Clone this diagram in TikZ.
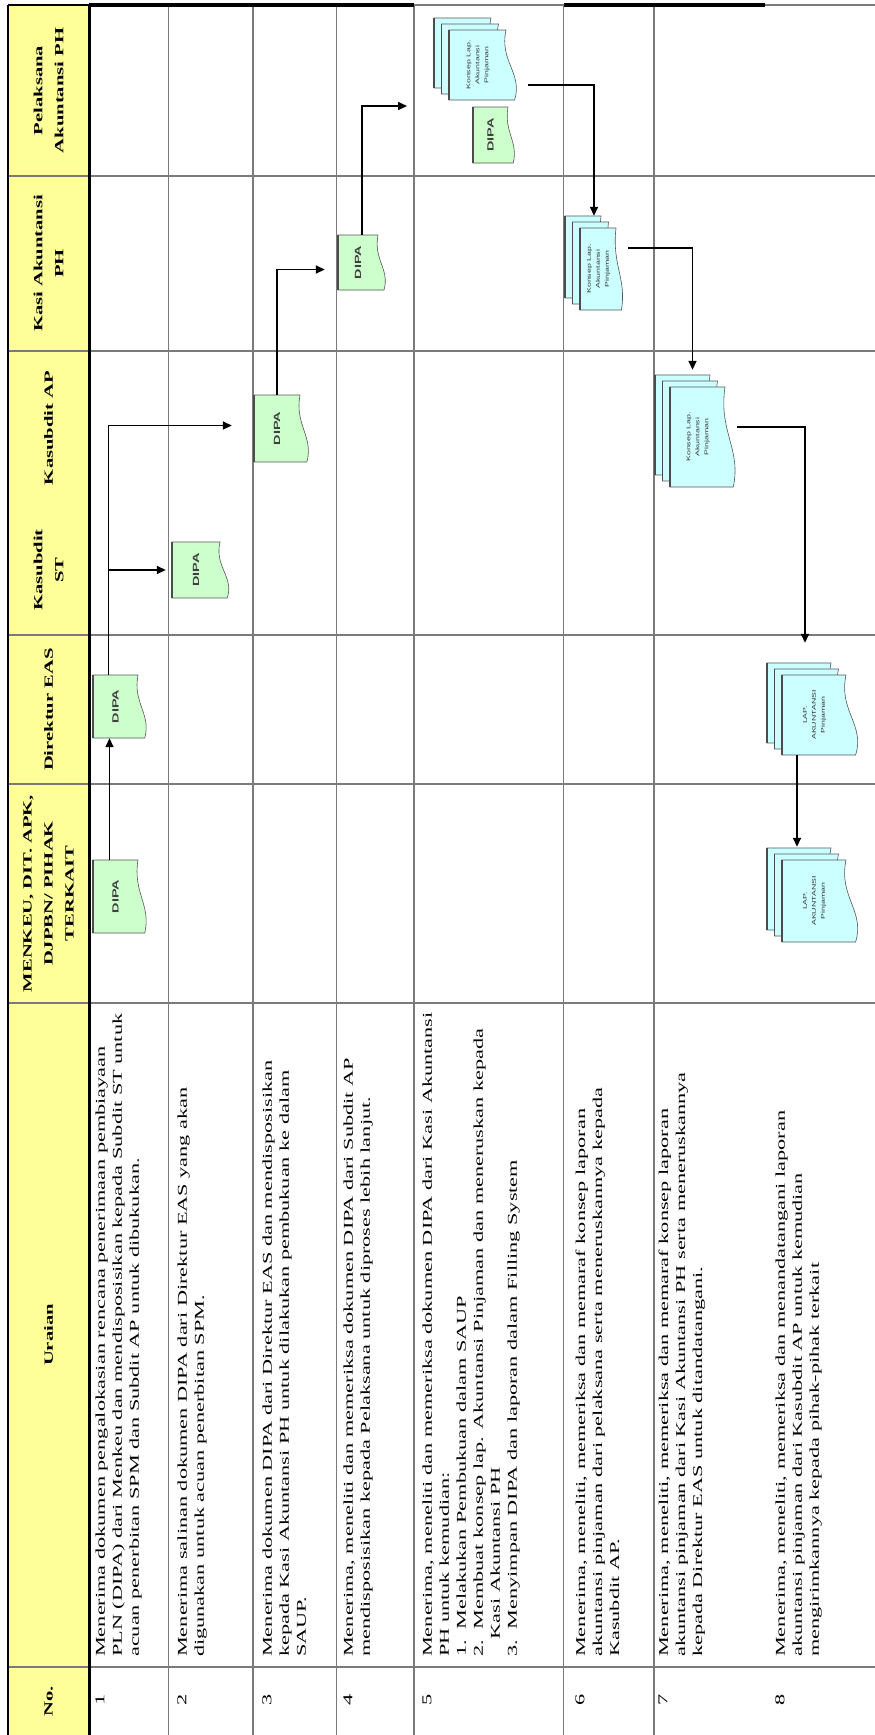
\documentclass[tikz,border=0pt]{standalone}
\usepackage{fontspec}
\usepackage{graphicx}
\setmainfont[FakeStretch=1.65]{Liberation Serif}
\newfontfamily\docfont[FakeStretch=1.6]{Liberation Sans}
\usetikzlibrary{arrows.meta}
\definecolor{hdr}{HTML}{FFFF99}
\definecolor{grn}{HTML}{CCFFCC}
\definecolor{blu}{HTML}{CCFFFF}
\definecolor{gridc}{HTML}{7A7A7A}
\definecolor{docln}{HTML}{555555}
\pgfdeclarelayer{bg}\pgfdeclarelayer{docs}\pgfsetlayers{bg,docs,main}
\newcommand\docpath[5]{%
  \pgfmathsetmacro\ax{#1}\pgfmathsetmacro\ay{#2}\pgfmathsetmacro\bx{#3}\pgfmathsetmacro\by{#4}%
  \pgfmathsetmacro\dW{\bx-\ax}\pgfmathsetmacro\dH{\by-\ay}%
  \pgfmathsetmacro\cax{\bx-0.12*\dW}\pgfmathsetmacro\cay{\ay+0.45*\dH}%
  \pgfmathsetmacro\cbx{\bx+0.30*\dW}\pgfmathsetmacro\cby{\ay+0.62*\dH}%
  \pgfmathsetmacro\ex{\bx+0.15*\dW}%
  \path[fill=#5,draw=docln,line width=0.6pt] (\ax,\ay) -- (\bx,\ay) .. controls (\cax,\cay) and (\cbx,\cby) .. (\ex,\by) -- (\ax,\by) -- cycle;
  \draw[line width=1.5pt,black!70] (\ax,\ay) -- (\ax,\by);
}
\newcommand\dipadoc[5]{%
  \begin{pgfonlayer}{docs}\docpath{#2}{#3}{#4}{#5}{grn}\end{pgfonlayer}
  \node[dipatext, minimum width={#4-#2}, minimum height={#5-#3}] (#1) at ({(#2+#4)/2},{(#3+#5)/2}) {\rotatebox{90}{DIPA}};
}
\newcommand\stackdoc[6]{%
  \begin{pgfonlayer}{docs}
    \docpath{#2-15}{#3-12}{#4-15}{#5-12}{blu}
    \docpath{#2-7.5}{#3-6}{#4-7.5}{#5-6}{blu}
    \docpath{#2}{#3}{#4}{#5}{blu}
  \end{pgfonlayer}
  \node[stacktext, minimum width={#4-#2}, minimum height={#5-#3}] (#1) at ({(#2+#4)/2},{(#3+#5)/2}) {\rotatebox{90}{\begin{tabular}{@{}c@{}}#6\end{tabular}}};
}
\tikzset{
  gridln/.style={draw=gridc, line width=1.1pt},
  dipatext/.style={inner sep=0pt, font=\docfont\bfseries\fontsize{9}{10}\selectfont, text=black!75},
  stacktext/.style={inner sep=0pt, font=\docfont\fontsize{5.5}{9}\selectfont, text=black!80},
  hdrtxt/.style={rotate=90, align=center, inner sep=0pt, font=\bfseries\fontsize{12.5}{21}\selectfont},
  rowtxt/.style={rotate=90, anchor=north west, align=left, inner sep=0pt, font=\fontsize{13.5}{17}\selectfont},
  numtxt/.style={rotate=90, inner sep=0pt, font=\fontsize{13.5}{17}\selectfont},
  arr/.style={-{Triangle[length=9pt,width=8pt]}, line width=1.6pt, black}
}
\begin{document}
\begin{tikzpicture}[x=1pt,y=-1pt]
\useasboundingbox (0,0) rectangle (875,1735);
\begin{pgfonlayer}{bg}
  \fill[white] (0,0) rectangle (875,1735);
  \fill[hdr] (8,5) rectangle (89,1735);
  \foreach \x in {168.5,253,336.5,414,563.6,654} \draw[gridln] (\x,5) -- (\x,1735);
  \foreach \y in {176,351,635,784,1003,1667} \draw[gridln] (8,\y) -- (875,\y);
  \draw[line width=3pt] (89,5) -- (89,1735);
  \draw[line width=1.4pt] (8,5) -- (8,1735);
  \draw[line width=1.2pt] (8,5) -- (89,5);
  \draw[line width=3.5pt] (89,5) -- (414,5);
  \draw[gridln] (414,5) -- (564,5);
  \draw[line width=3.5pt] (564,5) -- (765,5);
  \draw[gridln] (765,5) -- (875,5);
\end{pgfonlayer}

% header labels
\node[hdrtxt] (hPel) at (48.5,90.5) {Pelaksana\\Akuntansi PH};
\node[hdrtxt] (hKasi) at (48.5,263.5) {Kasi Akuntansi\\PH};
\node[hdrtxt] (hAP) at (48.5,428) {Kasubdit AP};
\node[hdrtxt] (hST) at (48.5,570) {Kasubdit\\ST};
\node[hdrtxt] (hDir) at (48.5,709.5) {Direktur EAS};
\node[hdrtxt] (hMen) at (48.5,893.5) {MENKEU, DIT. APK,\\DJPBN/ PIHAK\\TERKAIT};
\node[hdrtxt] (hUr) at (48.5,1335) {Uraian};
\node[hdrtxt] (hNo) at (48.5,1701) {No.};

% row numbers
\node[numtxt] (n1) at (100,1700) {1};
\node[numtxt] (n2) at (182,1700) {2};
\node[numtxt] (n3) at (267,1700) {3};
\node[numtxt] (n4) at (348,1700) {4};
\node[numtxt] (n5) at (427,1700) {5};
\node[numtxt] (n6) at (580,1700) {6};
\node[numtxt] (n7) at (663,1700) {7};
\node[numtxt] (n8) at (780,1700) {8};

% descriptions
\node[rowtxt] (t1) at (95.3,1657) {Menerima dokumen pengalokasian rencana penerimaan pembiayaan\\PLN (DIPA) dari Menkeu dan mendisposisikan kepada Subdit ST untuk\\acuan penerbitan SPM dan Subdit AP untuk dibukukan.};
\node[rowtxt] (t2) at (177.3,1657) {Menerima salinan dokumen DIPA  dari Direktur EAS yang akan\\digunakan untuk acuan penerbitan SPM.};
\node[rowtxt] (t3) at (262.3,1657) {Menerima dokumen DIPA  dari Direktur EAS dan mendisposisikan\\kepada Kasi Akuntansi PH untuk dilakukan pembukuan ke dalam\\SAUP.};
\node[rowtxt] (t4) at (343.3,1657) {Menerima, meneliti dan memeriksa dokumen DIPA dari Subdit AP\\mendisposisikan kepada Pelaksana untuk diproses lebih lanjut.};
\node[rowtxt] (t5) at (422.3,1657) {Menerima, meneliti dan memeriksa dokumen DIPA dari Kasi Akuntansi\\PH untuk kemudian:\\1.\hspace{0.8em}Melakukan Pembukuan dalam SAUP\\2.\hspace{0.8em}Membuat konsep lap. Akuntansi Pinjaman dan meneruskan kepada\\\hspace*{1.3em}Kasi Akuntansi PH\\3.\hspace{0.8em}Menyimpan DIPA dan laporan dalam Filling System};
\node[rowtxt] (t6) at (575.3,1657) {Menerima, meneliti, memeriksa dan memaraf konsep laporan\\akuntansi pinjaman dari pelaksana serta meneruskannya kepada\\Kasubdit AP.};
\node[rowtxt] (t7) at (658.3,1657) {Menerima, meneliti, memeriksa dan memaraf konsep laporan\\akuntansi pinjaman dari Kasi Akuntansi PH serta meneruskannya\\kepada Direktur EAS untuk ditandatangani.};
\node[rowtxt] (t8) at (775.3,1657) {Menerima, meneliti, memeriksa dan menandatangani laporan\\akuntansi pinjaman dari Kasubdit AP untuk kemudian\\mengirimkannya kepada pihak-pihak terkait};

% documents
\dipadoc{dMen}{93}{860}{138}{933}
\dipadoc{dDir}{93}{675}{138}{738}
\dipadoc{dST}{172}{542}{220}{598}
\dipadoc{dAP}{254}{395}{300}{462}
\dipadoc{dKasi}{338}{235}{378}{290}
\dipadoc{dPel}{473}{107}{508}{163}
\stackdoc{sPel}{449}{30}{506}{100}{Konsep Lap.\\Akuntansi\\Pinjaman}
\stackdoc{sKasi}{580}{228}{616}{310}{Konsep Lap.\\Akuntansi\\Pinjaman}
\stackdoc{sAP}{670}{387}{725}{487}{Konsep Lap.\\Akuntansi\\Pinjaman}
\stackdoc{sDir}{782}{675}{846}{755}{LAP.\\AKUNTANSI\\Pinjaman}
\stackdoc{sMen}{782}{860}{846}{942}{LAP.\\AKUNTANSI\\Pinjaman}

% connectors
\coordinate (pIn) at (407,106);
\draw[arr] ([xshift=-6pt]dMen.north) -- ([xshift=-6pt]dDir.south);
\draw[arr, shorten >=6pt] ([xshift=-7pt]dDir.north) |- (dST.west);
\draw[arr, shorten >=22pt] ([xshift=-7pt]dDir.north) |- ([yshift=3pt]dAP.west);
\draw[arr, shorten >=13pt] (dAP.north) |- ([yshift=-7pt]dKasi.west);
\draw[arr] ([xshift=4pt]dKasi.north) |- (pIn);
\draw[arr, shorten <=22pt] ([yshift=-20pt]sPel.east) -| ([xshift=-4pt,yshift=12pt]sKasi.north);
\draw[arr, shorten <=12pt] ([yshift=21pt]sKasi.east) -| ([xshift=-5pt,yshift=17pt]sAP.north);
\draw[arr, shorten <=12pt, shorten >=32pt] ([yshift=10pt]sAP.east) -| ([xshift=-9pt]sDir.north);
\draw[arr, shorten >=13pt] ([xshift=-17pt]sDir.south) -- ([xshift=-17pt]sMen.north);
\end{tikzpicture}
\end{document}
